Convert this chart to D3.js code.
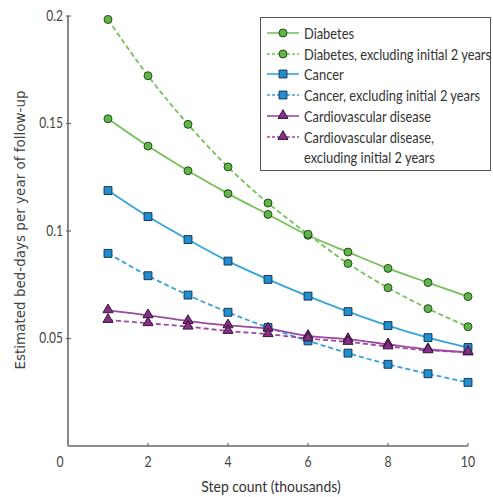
<!DOCTYPE html>
<html>
<head>
<meta charset="utf-8">
<script src="https://cdn.jsdelivr.net/npm/d3@7"></script>
<style>
  body { margin: 0; background: #fff; }
  text { font-family: Lato, "Open Sans", sans-serif; fill: #333; }
</style>
</head>
<body>
<div id="chart"></div>
<script>
  var steps = [1, 2, 3, 4, 5, 6, 7, 8, 9, 10];
  var diabetes = [0.1522, 0.1395, 0.128, 0.1174, 0.1077, 0.098, 0.0902, 0.0826, 0.076, 0.0695];
  var diabetesExcl = [0.1984, 0.1722, 0.1496, 0.1298, 0.113, 0.0985, 0.0849, 0.0736, 0.0639, 0.0555];
  var cancer = [0.1188, 0.1067, 0.096, 0.086, 0.0775, 0.0697, 0.0625, 0.056, 0.0504, 0.0458];
  var cancerExcl = [0.0896, 0.0792, 0.0702, 0.0622, 0.0551, 0.0489, 0.0432, 0.038, 0.0336, 0.0296];
  var cvd = [0.0631, 0.0608, 0.0581, 0.0561, 0.0546, 0.0512, 0.0497, 0.0473, 0.045, 0.0435];
  var cvdExcl = [0.0586, 0.0571, 0.0555, 0.0535, 0.052, 0.050, 0.0484, 0.0463, 0.0445, 0.0438];
  var xTicks = [0, 2, 4, 6, 8, 10];
  var yTicks = [0.05, 0.1, 0.15, 0.2];

  var width = 493, height = 497;

  var series = [
    { name: 'Diabetes', values: diabetes, dashed: false, shape: 'circle', line: '#74c158', fill: '#5db645', stroke: '#2b4a20' },
    { name: 'Diabetes, excluding initial 2 years', values: diabetesExcl, dashed: true, shape: 'circle', line: '#74c158', fill: '#5db645', stroke: '#2b4a20' },
    { name: 'Cancer', values: cancer, dashed: false, shape: 'square', line: '#35a4dc', fill: '#1e90d2', stroke: '#1a3550' },
    { name: 'Cancer, excluding initial 2 years', values: cancerExcl, dashed: true, shape: 'square', line: '#35a4dc', fill: '#1e90d2', stroke: '#1a3550' },
    { name: 'Cardiovascular disease', values: cvd, dashed: false, shape: 'triangle', line: '#9c4a9f', fill: '#872e88', stroke: '#351535' },
    { name: ['Cardiovascular disease,', 'excluding initial 2 years'], values: cvdExcl, dashed: true, shape: 'triangle', line: '#9c4a9f', fill: '#872e88', stroke: '#351535' }
  ];

  // the original uses a condensed face: squeeze text horizontally round its anchor
  function narrow(sel, k) {
    sel.each(function() {
      var t = d3.select(this);
      var ax = +t.attr('x'), ay = +t.attr('y');
      t.attr('transform', 'translate(' + ax + ',' + ay + ') scale(' + k + ',1) translate(' + (-ax) + ',' + (-ay) + ')');
    });
  }

  var svg = d3.select('#chart').append('svg')
      .attr('width', width)
      .attr('height', height);

  var x = d3.scaleLinear().domain([0, 10]).range([68, 468]);
  var y = d3.scaleLinear().domain([0, 0.2]).range([446, 16]);

  var axisColor = '#6a6a6a';

  // axes
  svg.append('line')
    .attr('x1', x(0)).attr('x2', x(10))
    .attr('y1', y(0)).attr('y2', y(0))
    .style('stroke', axisColor).style('stroke-width', 1.6);
  svg.append('line')
    .attr('x1', x(0)).attr('x2', x(0))
    .attr('y1', y(0)).attr('y2', y(0.2))
    .style('stroke', axisColor).style('stroke-width', 1.6);

  svg.selectAll('.xtick')
    .data(xTicks.filter(function(d) { return d > 0; }))
    .enter().append('line')
    .attr('x1', function(d) { return x(d); }).attr('x2', function(d) { return x(d); })
    .attr('y1', y(0)).attr('y2', y(0) - 3)
    .style('stroke', axisColor).style('stroke-width', 1.2);

  svg.selectAll('.xlab')
    .data(xTicks)
    .enter().append('text')
    .attr('x', function(d) { return d === 0 ? x(d) - 8 : x(d); })
    .attr('y', 467)
    .attr('text-anchor', 'middle')
    .style('font-size', '15px')
    .style('fill', '#444')
    .text(function(d) { return d; })
    .call(narrow, 0.82);

  svg.selectAll('.ytick')
    .data(yTicks)
    .enter().append('line')
    .attr('x1', x(0) - 2).attr('x2', x(0) + 3)
    .attr('y1', function(d) { return y(d); }).attr('y2', function(d) { return y(d); })
    .style('stroke', axisColor).style('stroke-width', 1.2);

  svg.selectAll('.ylab')
    .data(yTicks)
    .enter().append('text')
    .attr('x', 63)
    .attr('y', function(d) { return y(d) + 5; })
    .attr('text-anchor', 'end')
    .style('font-size', '15px')
    .style('fill', '#444')
    .text(function(d) { return d; })
    .call(narrow, 0.8);

  svg.append('text')
    .attr('x', 271).attr('y', 492)
    .attr('text-anchor', 'middle')
    .style('font-size', '15.5px')
    .text('Step count (thousands)')
    .call(narrow, 0.9);

  svg.append('text')
    .attr('transform', 'translate(25,230) rotate(-90)')
    .attr('text-anchor', 'middle')
    .style('font-family', '"DejaVu Sans", sans-serif')
    .style('font-size', '13.5px')
    .style('fill', '#444')
    .text('Estimated bed-days per year of follow-up');

  var line = d3.line()
    .x(function(d, i) { return x(steps[i]); })
    .y(function(d) { return y(d); })
    .curve(d3.curveMonotoneX);

  var symbols = { circle: d3.symbolCircle, square: d3.symbolSquare, triangle: d3.symbolTriangle };
  var sizes = { circle: 50, square: 62, triangle: 44 };

  function marker(sel, s) {
    sel.attr('d', d3.symbol().type(symbols[s.shape]).size(sizes[s.shape]))
      .style('fill', s.fill)
      .style('stroke', s.stroke)
      .style('stroke-width', 1);
  }

  series.forEach(function(s) {
    svg.append('path')
      .datum(s.values)
      .attr('d', line)
      .style('fill', 'none')
      .style('stroke', s.line)
      .style('stroke-width', 1.8)
      .style('stroke-dasharray', s.dashed ? '5,3' : null);
  });

  series.forEach(function(s) {
    svg.selectAll(null)
      .data(s.values)
      .enter().append('path')
      .attr('transform', function(d, i) {
        var dy = s.shape === 'triangle' ? -0.5 : 0;
        return 'translate(' + x(steps[i]) + ',' + (y(d) + dy) + ')';
      })
      .call(marker, s);
  });

  // legend
  var legend = svg.append('g');
  legend.append('rect')
    .attr('x', 260.5).attr('y', 17.5)
    .attr('width', 230).attr('height', 153)
    .style('fill', '#fff')
    .style('stroke', '#555')
    .style('stroke-width', 1);

  var rowY = [33, 54, 74, 95, 116, 137];
  series.forEach(function(s, i) {
    var g = legend.append('g').attr('transform', 'translate(0,' + rowY[i] + ')');
    g.append('line')
      .attr('x1', 267).attr('x2', 299)
      .attr('y1', 0).attr('y2', 0)
      .style('stroke', s.line)
      .style('stroke-width', 1.6)
      .style('stroke-dasharray', s.dashed ? '3,2' : null);
    g.append('path')
      .attr('transform', 'translate(283,' + (s.shape === 'triangle' ? -0.5 : 0) + ')')
      .call(marker, s);
    var names = Array.isArray(s.name) ? s.name : [s.name];
    names.forEach(function(n, j) {
      g.append('text')
        .attr('x', 304)
        .attr('y', j * 20.5 + 5.5)
        .style('font-size', '15.5px')
        .text(n)
        .call(narrow, 0.83);
    });
  });
</script>
</body>
</html>
